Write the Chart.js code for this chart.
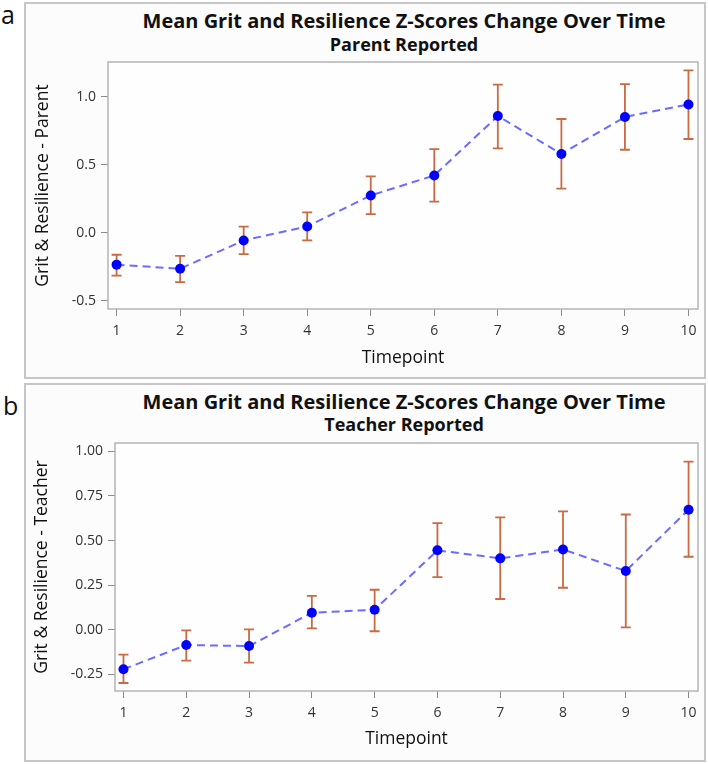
<!DOCTYPE html>
<html>
<head>
<meta charset="utf-8">
<script src="https://cdn.jsdelivr.net/npm/chart.js@4.4.1/dist/chart.umd.min.js"></script>
<style>
  html, body { margin: 0; padding: 0; background: #ffffff; }
  body { width: 708px; height: 764px; position: relative; overflow: hidden; font-family: "Open Sans", sans-serif; }
  .panel { position: absolute; box-sizing: border-box; border: 2px solid #c6c6c6; background: #fcfcfc; }
  .lbl { position: absolute; font-family: "Open Sans", sans-serif; font-size: 25px; color: #111; line-height: 28px; }
  .title { position: absolute; left: 104px; width: 600px; text-align: center; font-family: "Open Sans", sans-serif; font-weight: bold; color: #111; white-space: nowrap; }
  .t1 { font-size: 20px; line-height: 24px; }
  .t2 { font-size: 18px; line-height: 22px; }
  canvas { position: absolute; left: 0; }
</style>
</head>
<body>
<div class="panel" style="left:24px; top:2px; width:682px; height:377px;"></div>
<div class="panel" style="left:24px; top:383px; width:682px; height:379px;"></div>
<div class="lbl" style="left:1px; top:0px;">a</div>
<div class="lbl" style="left:3px; top:391px;">b</div>
<div class="title t1" style="top:9px;">Mean Grit and Resilience Z-Scores Change Over Time</div>
<div class="title t2" style="top:33px;">Parent Reported</div>
<div class="title t1" style="top:390px;">Mean Grit and Resilience Z-Scores Change Over Time</div>
<div class="title t2" style="top:413px;">Teacher Reported</div>
<canvas id="cA" width="708" height="380" style="top:0px;"></canvas>
<canvas id="cB" width="708" height="384" style="top:380px;"></canvas>
<script>
// ---- data ----
const timepoints = [1, 2, 3, 4, 5, 6, 7, 8, 9, 10];

const parentMean  = [-0.235, -0.265, -0.057, 0.046, 0.274, 0.421, 0.858, 0.579, 0.851, 0.943];
const parentUpper = [-0.162, -0.171,  0.044, 0.149, 0.414, 0.615, 1.088, 0.836, 1.093, 1.193];
const parentLower = [-0.316, -0.363, -0.157, -0.057, 0.137, 0.228, 0.620, 0.324, 0.610, 0.689];
const parentTicks = [-0.5, 0.0, 0.5, 1.0];

const teacherMean  = [-0.222, -0.086, -0.092, 0.095, 0.112, 0.445, 0.400, 0.450, 0.329, 0.673];
const teacherUpper = [-0.140, -0.004,  0.002, 0.189, 0.224, 0.598, 0.630, 0.663, 0.646, 0.942];
const teacherLower = [-0.299, -0.174, -0.185, 0.007, -0.009, 0.295, 0.172, 0.235, 0.013, 0.409];
const teacherTicks = [-0.25, 0.00, 0.25, 0.50, 0.75, 1.00];

const xTitle = "Timepoint";
const parentYTitle = "Grit & Resilience - Parent";
const teacherYTitle = "Grit & Resilience - Teacher";

// ---- styles ----
const POINT_COLOR = "#0000ff";
const LINE_COLOR = "#6b6bff";
const ERR_COLOR = "#c96a42";
const FRAME_COLOR = "#b4b4b4";
const TICK_COLOR = "#8a8a8a";
const LABEL_COLOR = "#333333";

const errorBarPlugin = {
  id: "errorBars",
  beforeDatasetsDraw(chart, args, opts) {
    const ctx = chart.ctx;
    const xs = chart.scales.x, ys = chart.scales.y;
    ctx.save();
    ctx.strokeStyle = ERR_COLOR;
    ctx.lineWidth = 1.8;
    opts.lower.forEach((lo, i) => {
      const hi = opts.upper[i];
      const x = xs.getPixelForValue(timepoints[i]);
      const y1 = ys.getPixelForValue(lo), y2 = ys.getPixelForValue(hi);
      ctx.beginPath();
      ctx.moveTo(x, y1); ctx.lineTo(x, y2);
      ctx.moveTo(x - 5, y1); ctx.lineTo(x + 5, y1);
      ctx.moveTo(x - 5, y2); ctx.lineTo(x + 5, y2);
      ctx.stroke();
    });
    ctx.restore();
  }
};

const framePlugin = {
  id: "frame",
  beforeDraw(chart) {
    const {ctx, chartArea: a} = chart;
    ctx.save();
    ctx.fillStyle = "#fefefe";
    ctx.fillRect(a.left, a.top, a.right - a.left, a.bottom - a.top);
    ctx.restore();
  },
  afterDraw(chart) {
    const {ctx, chartArea: a} = chart;
    ctx.save();
    ctx.strokeStyle = FRAME_COLOR;
    ctx.lineWidth = 1.5;
    ctx.strokeRect(a.left, a.top, a.right - a.left, a.bottom - a.top);
    ctx.restore();
  }
};

function makeChart(id, mean, lower, upper, ticks, yMin, yMax, yTitle, decimals, pad, yWidth, xHeight) {
  return new Chart(document.getElementById(id), {
    type: "line",
    data: {
      datasets: [{
        data: timepoints.map((t, i) => ({x: t, y: mean[i]})),
        borderColor: LINE_COLOR,
        borderWidth: 2,
        borderDash: [8, 5],
        pointBackgroundColor: POINT_COLOR,
        pointBorderColor: POINT_COLOR,
        pointRadius: 5,
        pointBorderWidth: 0,
        tension: 0,
        fill: false
      }]
    },
    options: {
      responsive: false,
      animation: false,
      devicePixelRatio: 1,
      layout: { padding: pad },
      plugins: {
        legend: { display: false },
        title: { display: false },
        tooltip: { enabled: false },
        errorBars: { lower: lower, upper: upper }
      },
      scales: {
        x: {
          type: "linear",
          min: 0.865, max: 10.15,
          afterBuildTicks: (s) => { s.ticks = timepoints.map(v => ({value: v})); },
          afterFit: (s) => { s.height = xHeight; },
          border: { display: false },
          grid: { drawOnChartArea: false, drawTicks: true, tickLength: 7, color: TICK_COLOR, lineWidth: 1 },
          ticks: { color: LABEL_COLOR, font: { family: "Open Sans", size: 14 }, padding: 7, maxRotation: 0,
                   callback: (v) => String(v) },
          title: { display: true, text: xTitle, color: "#111", font: { family: "Open Sans", size: 17.5 }, padding: { top: 0, bottom: 2 } }
        },
        y: {
          min: yMin, max: yMax,
          afterBuildTicks: (s) => { s.ticks = ticks.map(v => ({value: v})); },
          afterFit: (s) => { s.width = yWidth; },
          border: { display: false },
          grid: { drawOnChartArea: false, drawTicks: true, tickLength: 7, color: TICK_COLOR, lineWidth: 1 },
          ticks: { color: LABEL_COLOR, font: { family: "Open Sans", size: 14 }, padding: 5,
                   callback: (v) => Number(v).toFixed(decimals) },
          title: { display: true, text: yTitle, color: "#111", font: { family: "Open Sans", size: 17.5 }, padding: { top: 0, bottom: 0 } }
        }
      }
    },
    plugins: [framePlugin, errorBarPlugin]
  });
}

makeChart("cA", parentMean, parentLower, parentUpper, parentTicks, -0.561, 1.255, parentYTitle, 1,
          { left: 33, right: 10, top: 62, bottom: 9 }, 75, 62);
makeChart("cB", teacherMean, teacherLower, teacherUpper, teacherTicks, -0.344, 1.047, teacherYTitle, 2,
          { left: 32, right: 10, top: 63, bottom: 12 }, 83, 61);
</script>
</body>
</html>
